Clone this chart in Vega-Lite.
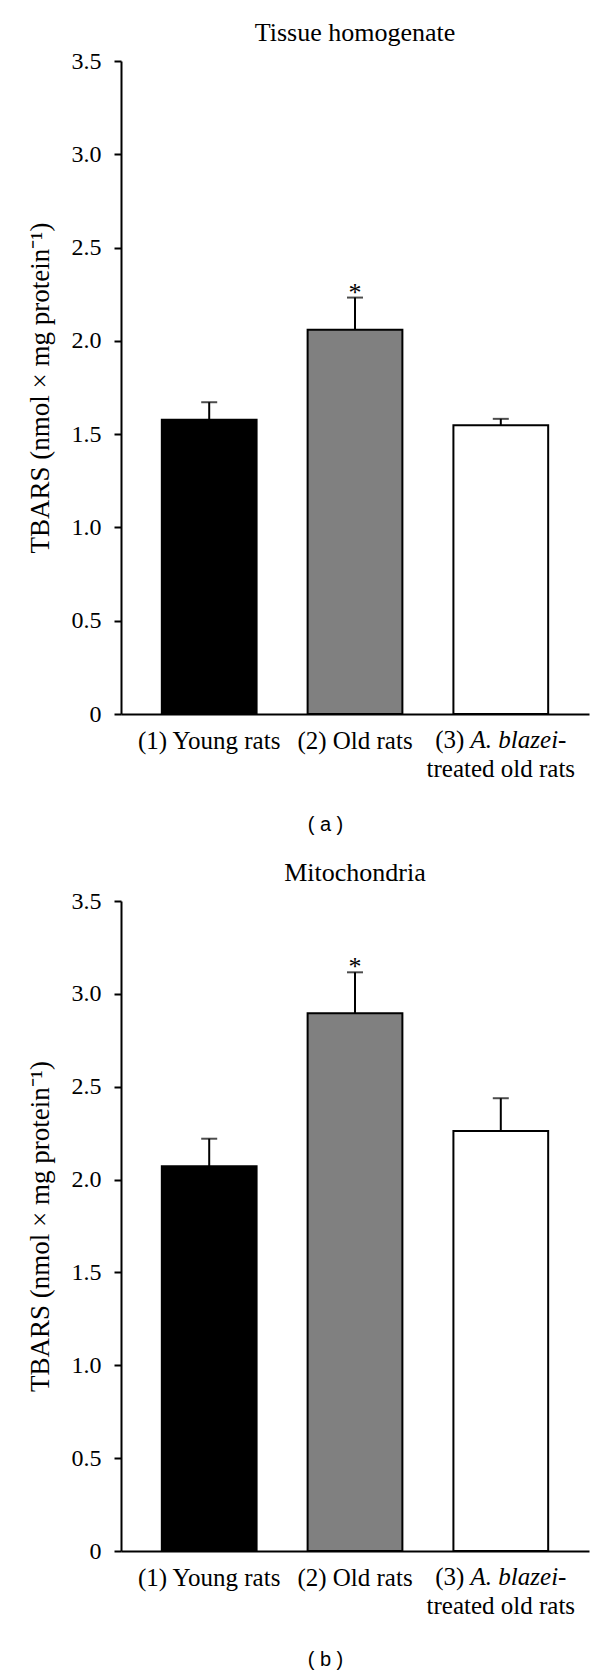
{
  "$schema": "https://vega.github.io/schema/vega-lite/v6.json",
  "background": "white",
  "padding": {"left": 26, "top": 20, "right": 10, "bottom": 5},
  "config": {
    "view": {"stroke": null},
    "font": "Liberation Serif",
    "concat": {"spacing": 26},
    "axis": {"domainColor": "black", "domainWidth": 2, "tickColor": "black", "tickWidth": 2, "labelColor": "black", "titleColor": "black", "grid": false}
  },
  "datasets": {
    "tissue": [
      {"group": "(1) Young rats", "value": 1.577, "upper": 1.671, "sig": ""},
      {"group": "(2) Old rats", "value": 2.059, "upper": 2.232, "sig": "*"},
      {"group": "(3) A. blazei-treated old rats", "value": 1.547, "upper": 1.582, "sig": ""}
    ],
    "mito": [
      {"group": "(1) Young rats", "value": 2.072, "upper": 2.220, "sig": ""},
      {"group": "(2) Old rats", "value": 2.895, "upper": 3.116, "sig": "*"},
      {"group": "(3) A. blazei-treated old rats", "value": 2.262, "upper": 2.438, "sig": ""}
    ]
  },
  "vconcat": [
    {
      "title": {"text": "Tissue homogenate", "fontSize": 26, "font": "Liberation Serif", "fontWeight": "normal", "offset": 3, "anchor": "middle", "color": "black"},
      "width": 468,
      "height": 653,
      "data": {"name": "tissue"},
      "encoding": {
        "x": {
          "field": "group", "type": "nominal", "sort": null,
          "scale": {"paddingInner": 0.35, "paddingOuter": 0.28},
          "axis": {
            "title": "( a )", "titleFont": "Liberation Sans", "titleFontSize": 20, "titleFontWeight": "normal",
            "titleX": 204, "titleY": 110, "titleBaseline": "middle", "titleAlign": "center",
            "ticks": false, "labelAngle": 0, "labelFontSize": 25, "labelPadding": 14, "labelLimit": 0, "labelLineHeight": 28,
            "labelExpr": "datum.value == '(3) A. blazei-treated old rats' ? ['', 'treated old rats'] : datum.value"
          }
        }
      },
      "layer": [
        {
          "mark": {"type": "bar", "stroke": "black", "strokeWidth": 2},
          "encoding": {
            "y": {
              "field": "value", "type": "quantitative",
              "scale": {"domain": [0, 3.5], "nice": false},
              "axis": {
                "title": "TBARS (nmol × mg protein⁻¹)", "titleFontSize": 27, "titleFontWeight": "normal",
                "titleX": -81, "titleBaseline": "middle",
                "values": [0, 0.5, 1, 1.5, 2, 2.5, 3, 3.5], "tickSize": 7, "labelFontSize": 24, "labelPadding": 13,
                "labelExpr": "datum.value == 0 ? '0' : format(datum.value, '.1f')"
              }
            },
            "fill": {"field": "group", "type": "nominal", "sort": null, "scale": {"range": ["#000000", "#808080", "#ffffff"]}, "legend": null}
          }
        },
        {
          "mark": {"type": "rule", "strokeWidth": 2, "color": "black"},
          "encoding": {"y": {"field": "value", "type": "quantitative"}, "y2": {"field": "upper"}}
        },
        {
          "mark": {"type": "tick", "orient": "horizontal", "size": 16, "thickness": 2, "color": "black"},
          "encoding": {"y": {"field": "upper", "type": "quantitative"}}
        },
        {
          "mark": {"type": "text", "fontSize": 26, "baseline": "alphabetic", "dy": 3, "color": "black"},
          "encoding": {"y": {"field": "upper", "type": "quantitative"}, "text": {"field": "sig"}}
        },
        {
          "transform": [{"filter": "datum.group == '(3) A. blazei-treated old rats'"}],
          "mark": {"type": "text", "fontSize": 25, "baseline": "top", "align": "left", "dx": -65.6, "dy": 14, "color": "black"},
          "encoding": {"y": {"datum": 0, "type": "quantitative"}, "text": {"value": "(3)"}}
        },
        {
          "transform": [{"filter": "datum.group == '(3) A. blazei-treated old rats'"}],
          "mark": {"type": "text", "fontSize": 25, "fontStyle": "italic", "baseline": "top", "align": "left", "dx": -30.2, "dy": 14, "color": "black"},
          "encoding": {"y": {"datum": 0, "type": "quantitative"}, "text": {"value": "A. blazei"}}
        },
        {
          "transform": [{"filter": "datum.group == '(3) A. blazei-treated old rats'"}],
          "mark": {"type": "text", "fontSize": 25, "baseline": "top", "align": "left", "dx": 57.3, "dy": 14, "color": "black"},
          "encoding": {"y": {"datum": 0, "type": "quantitative"}, "text": {"value": "-"}}
        }
      ]
    },
    {
      "title": {"text": "Mitochondria", "fontSize": 26, "font": "Liberation Serif", "fontWeight": "normal", "offset": 3, "anchor": "middle", "color": "black"},
      "width": 468,
      "height": 650,
      "data": {"name": "mito"},
      "encoding": {
        "x": {
          "field": "group", "type": "nominal", "sort": null,
          "scale": {"paddingInner": 0.35, "paddingOuter": 0.28},
          "axis": {
            "title": "( b )", "titleFont": "Liberation Sans", "titleFontSize": 20, "titleFontWeight": "normal",
            "titleX": 204, "titleY": 108, "titleBaseline": "middle", "titleAlign": "center",
            "ticks": false, "labelAngle": 0, "labelFontSize": 25, "labelPadding": 14, "labelLimit": 0, "labelLineHeight": 28,
            "labelExpr": "datum.value == '(3) A. blazei-treated old rats' ? ['', 'treated old rats'] : datum.value"
          }
        }
      },
      "layer": [
        {
          "mark": {"type": "bar", "stroke": "black", "strokeWidth": 2},
          "encoding": {
            "y": {
              "field": "value", "type": "quantitative",
              "scale": {"domain": [0, 3.5], "nice": false},
              "axis": {
                "title": "TBARS (nmol × mg protein⁻¹)", "titleFontSize": 27, "titleFontWeight": "normal",
                "titleX": -81, "titleBaseline": "middle",
                "values": [0, 0.5, 1, 1.5, 2, 2.5, 3, 3.5], "tickSize": 7, "labelFontSize": 24, "labelPadding": 13,
                "labelExpr": "datum.value == 0 ? '0' : format(datum.value, '.1f')"
              }
            },
            "fill": {"field": "group", "type": "nominal", "sort": null, "scale": {"range": ["#000000", "#808080", "#ffffff"]}, "legend": null}
          }
        },
        {
          "mark": {"type": "rule", "strokeWidth": 2, "color": "black"},
          "encoding": {"y": {"field": "value", "type": "quantitative"}, "y2": {"field": "upper"}}
        },
        {
          "mark": {"type": "tick", "orient": "horizontal", "size": 16, "thickness": 2, "color": "black"},
          "encoding": {"y": {"field": "upper", "type": "quantitative"}}
        },
        {
          "mark": {"type": "text", "fontSize": 26, "baseline": "alphabetic", "dy": 3, "color": "black"},
          "encoding": {"y": {"field": "upper", "type": "quantitative"}, "text": {"field": "sig"}}
        },
        {
          "transform": [{"filter": "datum.group == '(3) A. blazei-treated old rats'"}],
          "mark": {"type": "text", "fontSize": 25, "baseline": "top", "align": "left", "dx": -65.6, "dy": 14, "color": "black"},
          "encoding": {"y": {"datum": 0, "type": "quantitative"}, "text": {"value": "(3)"}}
        },
        {
          "transform": [{"filter": "datum.group == '(3) A. blazei-treated old rats'"}],
          "mark": {"type": "text", "fontSize": 25, "fontStyle": "italic", "baseline": "top", "align": "left", "dx": -30.2, "dy": 14, "color": "black"},
          "encoding": {"y": {"datum": 0, "type": "quantitative"}, "text": {"value": "A. blazei"}}
        },
        {
          "transform": [{"filter": "datum.group == '(3) A. blazei-treated old rats'"}],
          "mark": {"type": "text", "fontSize": 25, "baseline": "top", "align": "left", "dx": 57.3, "dy": 14, "color": "black"},
          "encoding": {"y": {"datum": 0, "type": "quantitative"}, "text": {"value": "-"}}
        }
      ]
    }
  ]
}
